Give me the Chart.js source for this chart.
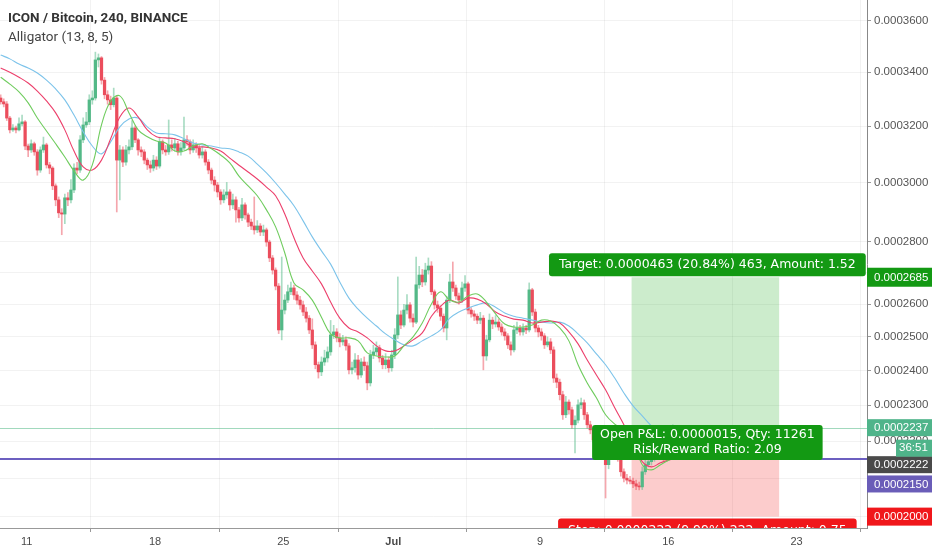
<!DOCTYPE html>
<html>
<head>
<meta charset="utf-8">
<title>ICON / Bitcoin, 240, BINANCE</title>
<script src="https://cdn.jsdelivr.net/npm/chart.js@4.4.1/dist/chart.umd.min.js"></script>
<style>
  html, body { margin: 0; padding: 0; background: #fff; }
  #wrap { width: 932px; height: 550px; }
</style>
</head>
<body>
<div id="wrap"><canvas id="chart" width="932" height="550"></canvas></div>
<script>
// prices in satoshi (1e-8 BTC), one candle every 4 hours, x in days counted from 1 June
const firstCandleDay = 9.58;
const candleStep = 1 / 6;

const opens = [
  33030, 32890, 32810, 32290, 31860, 31930, 31860, 32080, 32150, 31280,
  31140, 31360, 31070, 30430, 31140, 31320, 30610, 30500, 29880, 29400,
  28960, 28920, 29470, 29400, 29740, 30500, 30430, 31500, 32040, 32150,
  32960, 33030, 34470, 34550, 33700, 33150, 32960, 32780, 33030, 30780,
  31140, 30710, 31140, 31250, 31930, 31500, 31140, 31070, 30780, 30610,
  30500, 30780, 30570, 31430, 31140, 31070, 31320, 31210, 31360, 31070,
  31210, 31500, 31430, 31140, 31320, 31210, 30960, 31070, 30710, 30430,
  30080, 29910, 29670, 29400, 29570, 29670, 29230, 29400, 29060, 28790,
  29230, 28890, 28650, 28520, 28390, 28520, 28320, 28390, 27990, 27470,
  27080, 26570, 25210, 25820, 26130, 26390, 26510, 26290, 26130, 25980,
  25760, 25570, 25210, 24760, 24170, 23960, 24250, 24370, 24550, 25060,
  25150, 24970, 24850, 24910, 24730, 24020, 24080, 24310, 23870, 24250,
  24140, 23640, 24460, 24550, 24670, 24370, 24170, 24310, 24080, 24460,
  25060, 25670, 25360, 25820, 25980, 25570, 25450, 26610, 26920, 26700,
  27080, 27210, 26390, 25980, 25880, 25630, 25270, 26130, 26700, 26510,
  26260, 26130, 26510, 26640, 25820, 25700, 25630, 25510, 25570, 24430,
  24910, 25510, 25390, 25450, 25300, 25150, 25030, 24760, 24610, 25210,
  25270, 25150, 25270, 25210, 26450, 25760, 25270, 25150, 25030, 24760,
  24850, 24610, 23780, 23660, 23300, 22730, 23090, 22870, 22450, 22580,
  23010, 23070, 22730, 22450, 22310, 22030, 21950, 21840, 21710, 21360,
  21760, 21900, 22030, 21540, 21170, 21000, 20950, 20920, 20850, 20790,
  20770, 21170, 21360, 21440, 21540, 21630, 21710, 21600, 21540, 21900, 22170
];
const highs = [
  33150, 33000, 32900, 32350, 32050, 32000, 32300, 32400, 32200, 31350,
  31500, 31420, 31150, 31250, 31600, 31380, 30700, 30550, 29950, 29500,
  29100, 29600, 29650, 30100, 30650, 30700, 31650, 32300, 32500, 33150,
  33300, 34770, 34700, 34600, 33800, 33300, 33100, 33400, 33100, 31300,
  31250, 31300, 31500, 32200, 32000, 31550, 31250, 31150, 30850, 30750,
  30950, 30900, 31600, 31500, 31300, 32220, 31500, 31550, 31450, 31400,
  32330, 31650, 31500, 31500, 31400, 31300, 31250, 31150, 30800, 30500,
  30200, 30000, 29750, 29750, 30000, 29750, 29600, 29500, 29150, 29450,
  29300, 28950, 28750, 29500, 28700, 28600, 28550, 28450, 28050, 27550,
  27150, 26650, 27500, 26300, 26600, 26700, 26600, 26400, 26250, 26100,
  25900, 25650, 25550, 24850, 24250, 24400, 24600, 24700, 25500, 25350,
  25250, 25100, 25050, 25000, 24800, 24250, 24500, 24450, 24350, 24400,
  24250, 24600, 24750, 24850, 24750, 24450, 24500, 24400, 24600, 25250,
  26860, 25800, 26000, 26300, 26050, 25700, 27500, 27200, 27100, 27300,
  27470, 27350, 26450, 26100, 25950, 25700, 26250, 26950, 27340, 26600,
  26350, 26700, 26900, 26700, 25900, 25800, 25700, 25750, 25650, 25050,
  25700, 25600, 25650, 25550, 25400, 25250, 25100, 24850, 25350, 25450,
  25350, 25400, 25350, 26670, 26500, 25850, 25350, 25250, 25100, 25000,
  24950, 24700, 23900, 23750, 23400, 23250, 23150, 22950, 22700, 23150,
  23200, 23150, 22800, 22550, 22400, 22150, 22050, 21950, 21800, 21900,
  22100, 22300, 22100, 21600, 21250, 21100, 21050, 21000, 20950, 20900,
  21300, 21500, 21600, 21700, 21800, 21900, 21800, 21700, 22050, 22300, 22450
];
const lows = [
  32800, 32700, 32200, 31750, 31800, 31750, 31820, 32000, 31150, 30900,
  31050, 30950, 30250, 30350, 31050, 30500, 30300, 29750, 29200, 28800,
  28230, 28600, 29200, 29300, 29650, 30300, 30350, 31400, 31950, 32050,
  32800, 32950, 34200, 33550, 33000, 32800, 32600, 32700, 28990, 29400,
  30550, 30600, 31000, 31150, 31400, 30950, 30900, 30650, 30450, 30350,
  30400, 30450, 30500, 31000, 30950, 30980, 31100, 31100, 30950, 30950,
  31150, 31300, 31000, 31050, 31050, 30850, 30850, 30600, 30300, 29950,
  29700, 29500, 29250, 29300, 29450, 29050, 29100, 28650, 28650, 28700,
  28750, 28500, 28400, 28250, 28300, 28200, 28200, 27850, 27350, 26950,
  26450, 25100, 24910, 25700, 26050, 26300, 26150, 26000, 25850, 25650,
  25450, 25100, 24650, 24050, 23780, 23850, 24150, 24250, 24450, 24950,
  24850, 24700, 24750, 24600, 23900, 23900, 23950, 23750, 23800, 24000,
  23440, 23550, 24350, 24450, 24250, 24050, 24050, 23950, 23980, 24350,
  24950, 25250, 25300, 25700, 25450, 25300, 25400, 26500, 26550, 26600,
  26950, 26300, 25850, 25750, 25500, 25150, 24910, 26050, 26400, 26150,
  26000, 26050, 26400, 25700, 25600, 25500, 25400, 25400, 24020, 24300,
  24850, 25250, 25300, 25200, 25050, 24900, 24650, 24450, 24550, 25100,
  25050, 25050, 25100, 25150, 25650, 25150, 25000, 24900, 24650, 24700,
  24500, 23650, 23500, 23150, 22600, 22650, 22750, 22350, 21680, 22500,
  22900, 22600, 22350, 22200, 21950, 21850, 21750, 21600, 20480, 21250,
  21650, 21800, 21450, 21050, 20900, 20850, 20850, 20750, 20700, 20690,
  20700, 21100, 21300, 21350, 21450, 21550, 21500, 21450, 21450, 21800, 22100
];
const closes = [
  32890, 32810, 32290, 31860, 31930, 31860, 32080, 32150, 31280, 31140,
  31360, 31070, 30430, 31140, 31320, 30610, 30500, 29880, 29400, 28960,
  28920, 29470, 29400, 29740, 30500, 30430, 31500, 32040, 32150, 32960,
  33030, 34470, 34550, 33700, 33150, 32960, 32780, 33030, 30780, 31140,
  30710, 31140, 31250, 31930, 31500, 31140, 31070, 30780, 30610, 30500,
  30780, 30570, 31430, 31140, 31070, 31320, 31210, 31360, 31070, 31210,
  31500, 31430, 31140, 31320, 31210, 30960, 31070, 30710, 30430, 30080,
  29910, 29670, 29400, 29570, 29670, 29230, 29400, 29060, 28790, 29230,
  28890, 28650, 28520, 28390, 28520, 28320, 28390, 27990, 27470, 27080,
  26570, 25210, 25820, 26130, 26390, 26510, 26290, 26130, 25980, 25760,
  25570, 25210, 24760, 24170, 23960, 24250, 24370, 24550, 25060, 25150,
  24970, 24850, 24910, 24730, 24020, 24080, 24310, 23870, 24250, 24140,
  23640, 24460, 24550, 24670, 24370, 24170, 24310, 24080, 24460, 25060,
  25670, 25360, 25820, 25980, 25570, 25450, 26610, 26920, 26700, 27080,
  27210, 26390, 25980, 25880, 25630, 25270, 26130, 26700, 26510, 26260,
  26130, 26510, 26640, 25820, 25700, 25630, 25510, 25570, 24430, 24910,
  25510, 25390, 25450, 25300, 25150, 25030, 24760, 24610, 25210, 25270,
  25150, 25270, 25210, 26450, 25760, 25270, 25150, 25030, 24760, 24850,
  24610, 23780, 23660, 23300, 22730, 23090, 22870, 22450, 22580, 23010,
  23070, 22730, 22450, 22310, 22030, 21950, 21840, 21710, 21360, 21760,
  21900, 22030, 21540, 21170, 21000, 20950, 20920, 20850, 20790, 20770,
  21170, 21360, 21440, 21540, 21630, 21710, 21600, 21540, 21900, 22170, 22370
];

// Alligator lines, one point every 12 hours (already shifted forward)
const lineStep = 0.5;
const jawValues = [
  34660, 34510, 34310, 34160, 33970, 33700, 33370, 32960, 32400, 31790,
  31280, 31000, 31430, 31970, 32260, 32290, 31970, 31750, 31720, 31680,
  31540, 31390, 31320, 31280, 31210, 31180, 31070, 30920, 30640, 30330,
  29980, 29600, 29200, 28690, 28160, 27700, 27270, 26700, 26190, 25850,
  25570, 25330, 25090, 24910, 24760, 24730, 24880, 25030, 25210, 25570,
  25760, 25880, 25980, 26040, 25910, 25730, 25630, 25570, 25510, 25450,
  25420, 25450, 25330, 25090, 24820, 24490, 24170, 23780, 23350, 22980,
  22700, 22420, 22170, 22030, 21920, 21840, 21810
];
const teethValues = [
  34160, 34000, 33810, 33590, 33290, 32920, 32480, 31860, 31100, 30540,
  30430, 30780, 31540, 32330, 32660, 32330, 31860, 31610, 31570, 31540,
  31430, 31250, 31250, 31210, 31100, 30850, 30600, 30360, 30120, 29840,
  29540, 28920, 28130, 27470, 27050, 26640, 26070, 25570, 25270, 25150,
  24970, 24730, 24580, 24580, 24730, 24910, 25120, 25630, 25940, 26130,
  26040, 26190, 26160, 26010, 25760, 25630, 25540, 25510, 25420, 25450,
  25480, 25420, 25150, 24790, 24310, 23870, 23440, 22930, 22450, 21900,
  21440, 21300, 21410, 21490, 21570, 21630
];
const lipsValues = [
  33810, 33550, 33260, 32850, 32290, 31820, 31360, 30890, 30400, 30080,
  30610, 32040, 32920, 33110, 32480, 31860, 31610, 31460, 31390, 31100,
  31100, 31280, 31360, 31180, 30960, 30680, 30220, 29880, 29540, 29060,
  28490, 27630, 26670, 26450, 26130, 25600, 25090, 24970, 24970, 24880,
  24520, 24430, 24400, 24430, 24730, 25000, 25420, 26010, 26390, 26130,
  26070, 26260, 26320, 26070, 25700, 25390, 25300, 25300, 25360, 25510,
  25480, 25270, 24880, 24170, 23640, 23210, 22730, 22470, 22310, 22030,
  21360, 21220, 21360, 21490, 21600
];

const xMinDay = 9.543, xMaxDay = 56.843;
const xTickDays = [11, 18, 25, 31, 39, 46, 53];
const xTickLabels = ['11', '18', '25', 'Jul', '9', '16', '23'];
const yMin = 19711, yMax = 36830;
const yTickValues = [20000, 21000, 22000, 23000, 24000, 25000, 26000, 27000, 28000, 30000, 32000, 34000, 36000];
const yHiddenLabels = [21000, 27000]; // covered by the price badges

// long position tool and price levels
const toolStartDay = 44.0, toolEndDay = 52.05;
const targetPrice = 26850, entryPrice = 22220, stopPrice = 20000;
const lastPrice = 22370, levelPrice = 21500;
const targetText = 'Target: 0.0000463 (20.84%) 463, Amount: 1.52';
const pnlText = 'Open P&L: 0.0000015, Qty: 11261';
const ratioText = 'Risk/Reward Ratio: 2.09';
const stopText = 'Stop: 0.0000222 (9.99%) 222, Amount: 0.75';
const countdownText = '36:51';

const UP = '#53b987', DOWN = '#eb4d5c';
const GREEN_LABEL = '#139913', RED_LABEL = '#f0171b';

// price axis that is spaced like the TradingView one (fourth root of price)
class RootScale extends Chart.LinearScale {
  getPixelForValue(value) {
    if (value === null || value === undefined || isNaN(value)) return NaN;
    const a = Math.pow(this.min, 0.25), b = Math.pow(this.max, 0.25);
    return this.getPixelForDecimal((Math.pow(value, 0.25) - a) / (b - a));
  }
  getValueForPixel(pixel) {
    const a = Math.pow(this.min, 0.25), b = Math.pow(this.max, 0.25);
    return Math.pow(a + this.getDecimalForPixel(pixel) * (b - a), 4);
  }
}
RootScale.id = 'root';
RootScale.defaults = {};
Chart.register(RootScale);

const candleDays = closes.map((c, i) => firstCandleDay + i * candleStep);
const isUp = closes.map((c, i) => c >= opens[i]);

function lineData(values) {
  return values.map((v, k) => ({ x: firstCandleDay + k * lineStep, y: v }));
}

function roundBox(ctx, x, y, w, h, r, color) {
  ctx.beginPath();
  ctx.moveTo(x + r, y);
  ctx.arcTo(x + w, y, x + w, y + h, r);
  ctx.arcTo(x + w, y + h, x, y + h, r);
  ctx.arcTo(x, y + h, x, y, r);
  ctx.arcTo(x, y, x + w, y, r);
  ctx.closePath();
  ctx.fillStyle = color;
  ctx.fill();
}

const tradingOverlay = {
  id: 'tradingOverlay',
  beforeDatasetsDraw(chart) {
    const { ctx, scales: { x, y } } = chart;
    const x0 = x.getPixelForValue(toolStartDay), x1 = x.getPixelForValue(toolEndDay);
    const yT = y.getPixelForValue(targetPrice), yE = y.getPixelForValue(entryPrice), yS = y.getPixelForValue(stopPrice);
    ctx.save();
    ctx.fillStyle = 'rgba(0,160,0,0.2)';
    ctx.fillRect(x0, yT, x1 - x0, yE - yT);
    ctx.fillStyle = 'rgba(240,0,0,0.2)';
    ctx.fillRect(x0, yE, x1 - x0, yS - yE);
    ctx.restore();
  },
  afterDatasetsDraw(chart) {
    const { ctx, chartArea: a, scales: { x, y } } = chart;
    const x0 = x.getPixelForValue(toolStartDay), x1 = x.getPixelForValue(toolEndDay);
    const xc = (x0 + x1) / 2 + 2;
    const yT = y.getPixelForValue(targetPrice), yE = y.getPixelForValue(entryPrice), yS = y.getPixelForValue(stopPrice);
    const yL = y.getPixelForValue(lastPrice), yP = y.getPixelForValue(levelPrice);
    ctx.save();
    ctx.beginPath();
    ctx.rect(a.left, a.top, a.right - a.left, a.bottom - a.top);
    ctx.clip();

    ctx.strokeStyle = 'rgba(83,185,135,0.55)';
    ctx.lineWidth = 1;
    ctx.beginPath();
    ctx.moveTo(a.left, Math.round(yL) + 0.5);
    ctx.lineTo(a.right, Math.round(yL) + 0.5);
    ctx.stroke();

    ctx.strokeStyle = '#6c5fc0';
    ctx.lineWidth = 2;
    ctx.beginPath();
    ctx.moveTo(a.left, Math.round(yP));
    ctx.lineTo(a.right, Math.round(yP));
    ctx.stroke();

    ctx.font = '12.5px "DejaVu Sans"';
    ctx.textAlign = 'center';
    ctx.textBaseline = 'middle';

    let w = ctx.measureText(targetText).width + 20;
    roundBox(ctx, xc - w / 2, yT - 24, w, 23, 3, GREEN_LABEL);
    ctx.fillStyle = '#fff';
    ctx.fillText(targetText, xc, yT - 12.5);

    w = Math.max(ctx.measureText(pnlText).width, ctx.measureText(ratioText).width) + 16;
    roundBox(ctx, xc - w / 2, yE - 8, w, 35, 3, GREEN_LABEL);
    ctx.fillStyle = '#fff';
    ctx.fillText(pnlText, xc, yE + 2);
    ctx.fillText(ratioText, xc, yE + 17);

    w = ctx.measureText(stopText).width + 20;
    roundBox(ctx, xc - w / 2, yS + 2, w, 23, 3, RED_LABEL);
    ctx.fillStyle = '#fff';
    ctx.fillText(stopText, xc, yS + 14);
    ctx.restore();
  },
  afterDraw(chart) {
    const { ctx, chartArea: a, scales: { y } } = chart;
    const right = chart.width;
    const yT = y.getPixelForValue(targetPrice), yS = y.getPixelForValue(stopPrice);
    const yL = y.getPixelForValue(lastPrice), yP = y.getPixelForValue(levelPrice);
    const badges = [
      { text: (targetPrice / 1e8).toFixed(7), color: GREEN_LABEL, mid: yT, h: 19 },
      { text: (lastPrice / 1e8).toFixed(7), color: '#4fb48a', mid: yL, h: 17 },
      { text: (entryPrice / 1e8).toFixed(7), color: '#4a4a4a', mid: yL + 37, h: 17 },
      { text: (levelPrice / 1e8).toFixed(7), color: '#6a5db8', mid: yP + 24.5, h: 17 },
      { text: (stopPrice / 1e8).toFixed(7), color: RED_LABEL, mid: yS, h: 18 }
    ];
    ctx.save();
    ctx.font = '11.5px "Liberation Sans"';
    ctx.textAlign = 'left';
    ctx.textBaseline = 'middle';
    badges.forEach(b => {
      ctx.fillStyle = b.color;
      ctx.fillRect(a.right, b.mid - b.h / 2, right - a.right, b.h);
      ctx.fillStyle = '#fff';
      ctx.fillText(b.text, a.right + 7, b.mid + 0.5);
    });
    ctx.fillStyle = '#4fb48a';
    ctx.fillRect(a.right + 29, yL + 12, right - a.right - 29, 17);
    ctx.fillStyle = '#fff';
    ctx.fillText(countdownText, a.right + 32, yL + 20.5);

    ctx.fillStyle = '#333';
    ctx.font = 'bold 13.5px Roboto';
    ctx.fillText('ICON / Bitcoin, 240, BINANCE', 8, 19);
    ctx.fillStyle = '#444';
    ctx.font = '13.5px Roboto';
    ctx.fillText('Alligator (13, 8, 5)', 8, 38);
    ctx.restore();
  }
};

new Chart(document.getElementById('chart'), {
  type: 'bar',
  data: {
    datasets: [
      {
        type: 'line', label: 'Lips', order: 1,
        data: lineData(lipsValues),
        borderColor: '#6fcc5e', borderWidth: 1.1, pointRadius: 0, tension: 0.4
      },
      {
        type: 'line', label: 'Teeth', order: 1,
        data: lineData(teethValues),
        borderColor: '#ec3f6b', borderWidth: 1.1, pointRadius: 0, tension: 0.4
      },
      {
        type: 'line', label: 'Jaw', order: 1,
        data: lineData(jawValues),
        borderColor: '#7cc3ea', borderWidth: 1.1, pointRadius: 0, tension: 0.4
      },
      {
        label: 'Body', order: 2, grouped: false,
        data: closes.map((c, i) => ({ x: candleDays[i], y: [opens[i], c] })),
        backgroundColor: isUp.map(u => u ? UP : DOWN),
        barThickness: 2.6, minBarLength: 1, borderWidth: 0
      },
      {
        label: 'Wick', order: 3, grouped: false,
        data: closes.map((c, i) => ({ x: candleDays[i], y: [lows[i], highs[i]] })),
        backgroundColor: isUp.map(u => u ? 'rgba(83,185,135,0.5)' : 'rgba(235,77,92,0.5)'),
        barThickness: 1, borderWidth: 0
      }
    ]
  },
  options: {
    responsive: false,
    animation: false,
    devicePixelRatio: 1,
    layout: { padding: 0 },
    plugins: { legend: { display: false }, tooltip: { enabled: false } },
    scales: {
      x: {
        type: 'linear', min: xMinDay, max: xMaxDay, offset: false,
        afterBuildTicks: s => { s.ticks = xTickDays.map(v => ({ value: v })); },
        afterFit: s => { s.height = 22; s.paddingLeft = 0; s.paddingRight = 0; },
        grid: { color: 'rgba(0,0,0,0.05)', tickLength: 4, tickColor: '#999' },
        border: { display: true, color: '#999' },
        ticks: {
          autoSkip: false, maxRotation: 0, padding: 3, color: '#4a4a4a',
          callback: v => xTickLabels[xTickDays.indexOf(v)],
          font: c => ({ family: 'Liberation Sans', size: 11, weight: c.tick && c.tick.value === 31 ? 'bold' : 'normal' })
        }
      },
      y: {
        type: 'root', position: 'right', min: yMin, max: yMax,
        afterBuildTicks: s => { s.ticks = yTickValues.map(v => ({ value: v })); },
        afterFit: s => { s.width = 65; s.paddingTop = 0; s.paddingBottom = 0; },
        grid: { color: 'rgba(0,0,0,0.05)', tickLength: 4, tickColor: '#999' },
        border: { display: true, color: '#888' },
        ticks: {
          autoSkip: false, padding: 3, color: '#555',
          font: { family: 'Liberation Sans', size: 11.5 },
          callback: v => yHiddenLabels.includes(v) ? '' : (v / 1e8).toFixed(7)
        }
      }
    }
  },
  plugins: [tradingOverlay]
});
</script>
</body>
</html>
